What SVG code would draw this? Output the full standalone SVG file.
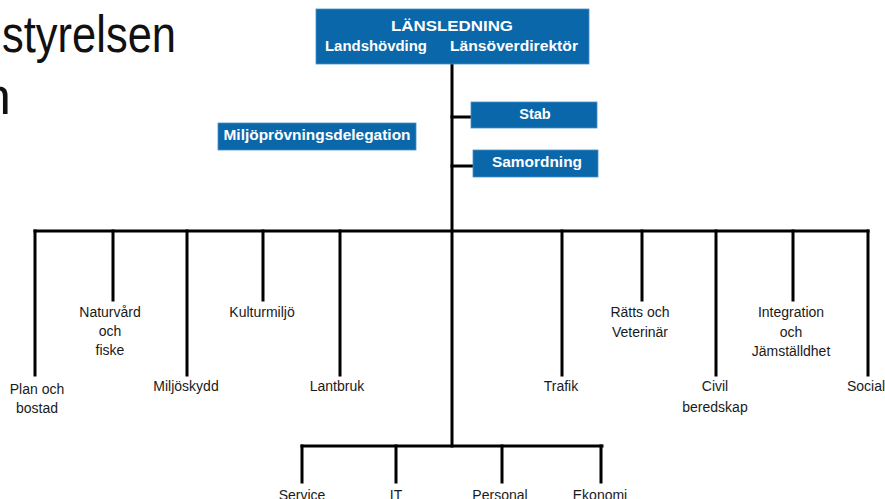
<svg xmlns="http://www.w3.org/2000/svg" width="885" height="499" viewBox="0 0 885 499">
<style>
.box{fill:#0A67AA;stroke:#4a90c8;stroke-width:0.8}
.bt{font-family:"Liberation Sans",Arial,sans-serif;font-weight:bold;font-size:14.5px;fill:#ffffff}
.lb{font-family:"Liberation Sans",Arial,sans-serif;font-size:14px;fill:#1a1a1a;text-anchor:middle}
.ttl{font-family:"Liberation Sans",Arial,sans-serif;font-size:52px;fill:#111}
.ln{stroke:#000;stroke-width:3;fill:none;stroke-linecap:square}
</style>
<rect width="885" height="499" fill="#ffffff"/>
<g id="title">
<text class="ttl" x="2" y="52" textLength="174" lengthAdjust="spacingAndGlyphs">styrelsen</text>
<text class="ttl" x="-18" y="114">n</text>
</g>
<g id="connectors">
<path class="ln" d="M452 64V446"/>
<path class="ln" d="M452 117H471M452 166H473"/>
<path class="ln" d="M35 231H868"/>
<path class="ln" d="M35 231V375M113 231V300M187 231V375M263 231V300M340 231V375"/>
<path class="ln" d="M562 231V375M642 231V300M716 231V375M793 231V300M868 231V375"/>
<path class="ln" d="M302 446H602"/>
<path class="ln" d="M302 446V482M396 446V482M502 446V482M601 446V482"/>
</g>
<g id="lansledning">
<rect class="box" x="316" y="9" width="273" height="55"/>
<text class="bt" x="452" y="31" text-anchor="middle" textLength="122" lengthAdjust="spacingAndGlyphs">LÄNSLEDNING</text>
<text class="bt" x="325" y="51" textLength="102" lengthAdjust="spacingAndGlyphs">Landshövding</text>
<text class="bt" x="450" y="51" textLength="128" lengthAdjust="spacingAndGlyphs">Länsöverdirektör</text>
</g>
<g id="stab">
<rect class="box" x="471" y="102" width="126" height="26"/>
<text class="bt" x="535" y="119" text-anchor="middle">Stab</text>
</g>
<g id="samordning">
<rect class="box" x="473" y="150" width="125" height="27"/>
<text class="bt" x="537" y="167" text-anchor="middle" textLength="90" lengthAdjust="spacingAndGlyphs">Samordning</text>
</g>
<g id="miljoprovning">
<rect class="box" x="218" y="123" width="198" height="27"/>
<text class="bt" x="317" y="140" text-anchor="middle" textLength="187" lengthAdjust="spacingAndGlyphs">Miljöprövningsdelegation</text>
</g>
<g id="plan"><text class="lb" x="37" y="394">Plan och</text><text class="lb" x="37" y="413">bostad</text></g>
<g id="naturvard"><text class="lb" x="110" y="317">Naturvård</text><text class="lb" x="110" y="336">och</text><text class="lb" x="110" y="355">fiske</text></g>
<g id="miljoskydd"><text class="lb" x="186" y="391">Miljöskydd</text></g>
<g id="kulturmiljo"><text class="lb" x="262" y="317">Kulturmiljö</text></g>
<g id="lantbruk"><text class="lb" x="337" y="391">Lantbruk</text></g>
<g id="trafik"><text class="lb" x="561" y="391">Trafik</text></g>
<g id="ratts"><text class="lb" x="640" y="317">Rätts och</text><text class="lb" x="640" y="337">Veterinär</text></g>
<g id="civil"><text class="lb" x="715" y="391">Civil</text><text class="lb" x="715" y="412">beredskap</text></g>
<g id="integration"><text class="lb" x="791" y="317">Integration</text><text class="lb" x="791" y="337">och</text><text class="lb" x="791" y="356">Jämställdhet</text></g>
<g id="social"><text class="lb" x="866" y="391">Social</text></g>
<g id="service"><text class="lb" x="302" y="500">Service</text></g>
<g id="it"><text class="lb" x="396" y="500">IT</text></g>
<g id="personal"><text class="lb" x="500" y="500">Personal</text></g>
<g id="ekonomi"><text class="lb" x="600" y="500">Ekonomi</text></g>
</svg>
